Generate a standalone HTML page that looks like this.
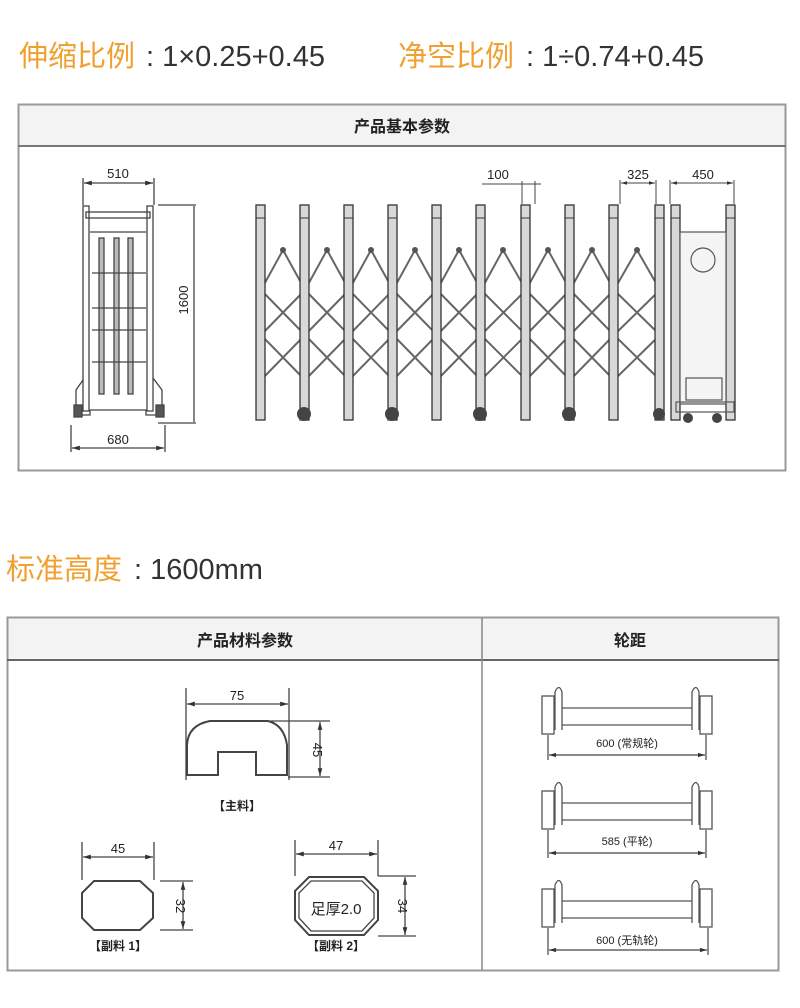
<!DOCTYPE html>
<html><head><meta charset="utf-8"><style>
html,body{margin:0;padding:0;background:#fff;}
svg{display:block;}
text{font-family:"Liberation Sans","Noto Sans CJK SC",sans-serif;}
</style></head><body>
<svg width="800" height="1008" viewBox="0 0 800 1008" xmlns="http://www.w3.org/2000/svg">
<defs>
<marker id="a" viewBox="0 0 10 10" refX="10" refY="5" markerWidth="6" markerHeight="6" orient="auto-start-reverse"><path d="M0,2 L10,5 L0,8z" fill="#333"/></marker>
</defs>
<!-- title line -->
<text x="19" y="66" font-size="29" fill="#f0a030" font-family="Noto Sans CJK SC,sans-serif">伸缩比例</text>
<text x="146" y="66" font-size="29" fill="#333">: 1×0.25+0.45</text>
<text x="398" y="66" font-size="29" fill="#f0a030" font-family="Noto Sans CJK SC,sans-serif">净空比例</text>
<text x="526" y="66" font-size="29" fill="#333">: 1÷0.74+0.45</text>

<!-- box 1 -->
<rect x="18.5" y="104.5" width="767" height="366" fill="#fff" stroke="#999" stroke-width="2"/>
<rect x="19.5" y="105.5" width="765" height="40" fill="#f3f3f3"/>
<line x1="18" y1="146" x2="786" y2="146" stroke="#777" stroke-width="2"/>
<text x="402" y="132" font-size="16" fill="#222" text-anchor="middle" font-weight="bold" font-family="Noto Sans CJK SC,sans-serif">产品基本参数</text>

<!-- side view -->
<g stroke="#444" fill="none" stroke-width="1.3">
<line x1="83" y1="178" x2="83" y2="205"/><line x1="154" y1="178" x2="154" y2="205"/>
<line x1="84" y1="183" x2="153" y2="183" marker-start="url(#a)" marker-end="url(#a)"/>
<line x1="158" y1="205" x2="196" y2="205"/><line x1="158" y1="423" x2="196" y2="423"/>
<line x1="194" y1="206" x2="194" y2="422"/>
<line x1="71" y1="425" x2="71" y2="452"/><line x1="165" y1="425" x2="165" y2="452"/>
<line x1="72" y1="448" x2="164" y2="448" marker-start="url(#a)" marker-end="url(#a)"/>
<rect x="83" y="206" width="6" height="205"/><rect x="147" y="206" width="6" height="205"/>
<rect x="86" y="212" width="64" height="6"/>
<line x1="90" y1="232" x2="146" y2="232"/>
<rect x="99" y="238" width="5" height="156" fill="#bbb"/><rect x="114" y="238" width="5" height="156" fill="#bbb"/><rect x="128" y="238" width="5" height="156" fill="#bbb"/>
<line x1="92" y1="273" x2="146" y2="273"/><line x1="92" y1="308" x2="146" y2="308"/><line x1="92" y1="330" x2="146" y2="330"/><line x1="92" y1="362" x2="146" y2="362"/>
<path d="M83,380 L76,390 L76,415 L90,415 L90,410 L146,410 L146,415 L162,415 L162,390 L153,378"/>
<rect x="74" y="405" width="8" height="12" fill="#555"/><rect x="156" y="405" width="8" height="12" fill="#555"/>
</g>
<text x="118" y="178" font-size="13" fill="#222" text-anchor="middle">510</text>
<text x="118" y="444" font-size="13" fill="#222" text-anchor="middle">680</text>
<text transform="translate(188,300) rotate(-90)" font-size="13" fill="#222" text-anchor="middle">1600</text>

<!-- main gate lattice -->
<g stroke="#666" fill="none" stroke-width="2">
<path d="M261,290 L283,250 L305,290 L261,335 L305,380 M305,290 L261,335 M261,290 L305,335 L261,380
 M305,290 L327,250 L349,290 L305,335 L349,380 M349,290 L305,335 M305,290 L349,335 L305,380
 M349,290 L371,250 L393,290 L349,335 L393,380 M393,290 L349,335 M349,290 L393,335 L349,380
 M393,290 L415,250 L437,290 L393,335 L437,380 M437,290 L393,335 M393,290 L437,335 L393,380
 M437,290 L459,250 L481,290 L437,335 L481,380 M481,290 L437,335 M437,290 L481,335 L437,380
 M481,290 L503,250 L526,290 L481,335 L526,380 M526,290 L481,335 M481,290 L526,335 L481,380
 M526,290 L548,250 L570,290 L526,335 L570,380 M570,290 L526,335 M526,290 L570,335 L526,380
 M570,290 L592,250 L614,290 L570,335 L614,380 M614,290 L570,335 M570,290 L614,335 L570,380
 M614,290 L637,250 L660,290 L614,335 L660,380 M660,290 L614,335 M614,290 L660,335 L614,380"/>
</g>
<g fill="#555"><circle cx="283" cy="250" r="3"/><circle cx="327" cy="250" r="3"/><circle cx="371" cy="250" r="3"/><circle cx="415" cy="250" r="3"/><circle cx="459" cy="250" r="3"/><circle cx="503" cy="250" r="3"/><circle cx="548" cy="250" r="3"/><circle cx="592" cy="250" r="3"/><circle cx="637" cy="250" r="3"/></g>
<g fill="#d8d8d8" stroke="#333" stroke-width="1.3">
<rect x="256" y="205" width="9" height="215"/><rect x="300" y="205" width="9" height="215"/>
<rect x="344" y="205" width="9" height="215"/><rect x="388" y="205" width="9" height="215"/>
<rect x="432" y="205" width="9" height="215"/><rect x="476" y="205" width="9" height="215"/>
<rect x="521" y="205" width="9" height="215"/><rect x="565" y="205" width="9" height="215"/>
<rect x="609" y="205" width="9" height="215"/><rect x="655" y="205" width="9" height="215"/>
<rect x="671" y="205" width="9" height="215"/><rect x="726" y="205" width="9" height="215"/>
</g>
<g stroke="#333" stroke-width="1">
<line x1="256" y1="218" x2="265" y2="218"/><line x1="300" y1="218" x2="309" y2="218"/><line x1="344" y1="218" x2="353" y2="218"/><line x1="388" y1="218" x2="397" y2="218"/><line x1="432" y1="218" x2="441" y2="218"/><line x1="476" y1="218" x2="485" y2="218"/><line x1="521" y1="218" x2="530" y2="218"/><line x1="565" y1="218" x2="574" y2="218"/><line x1="609" y1="218" x2="618" y2="218"/><line x1="655" y1="218" x2="664" y2="218"/><line x1="671" y1="218" x2="680" y2="218"/><line x1="726" y1="218" x2="735" y2="218"/>
</g>
<g fill="#444">
<circle cx="304" cy="414" r="7"/><circle cx="392" cy="414" r="7"/><circle cx="480" cy="414" r="7"/><circle cx="569" cy="414" r="7"/><circle cx="659" cy="414" r="6"/>
<circle cx="688" cy="418" r="5"/><circle cx="717" cy="418" r="5"/>
</g>
<!-- controller -->
<g stroke="#555" fill="none" stroke-width="1.2">
<rect x="680" y="232" width="46" height="172" fill="#f4f4f4"/>
<circle cx="703" cy="260" r="12"/>
<rect x="686" y="378" width="36" height="22"/>
<rect x="676" y="402" width="58" height="10"/>
</g>
<!-- dims -->
<g stroke="#444" stroke-width="1" fill="none">
<line x1="482" y1="184" x2="541" y2="184"/><line x1="522" y1="181" x2="522" y2="204"/><line x1="535" y1="181" x2="535" y2="204"/>
<line x1="621" y1="183" x2="655" y2="183" marker-start="url(#a)" marker-end="url(#a)"/><line x1="620" y1="180" x2="620" y2="204"/><line x1="656" y1="180" x2="656" y2="204"/>
<line x1="671" y1="183" x2="733" y2="183" marker-start="url(#a)" marker-end="url(#a)"/><line x1="670" y1="180" x2="670" y2="204"/><line x1="734" y1="180" x2="734" y2="204"/>
</g>
<text x="498" y="179" font-size="13" fill="#222" text-anchor="middle">100</text>
<text x="638" y="179" font-size="13" fill="#222" text-anchor="middle">325</text>
<text x="703" y="179" font-size="13" fill="#222" text-anchor="middle">450</text>

<!-- standard height -->
<text x="6" y="579" font-size="29" fill="#f0a030" font-family="Noto Sans CJK SC,sans-serif">标准高度</text>
<text x="134" y="579" font-size="29" fill="#333">: 1600mm</text>

<!-- box 2 -->
<rect x="7.5" y="617.5" width="771" height="353" fill="#fff" stroke="#999" stroke-width="2"/>
<rect x="8.5" y="618.5" width="769" height="40" fill="#f3f3f3"/>
<line x1="7" y1="660" x2="779" y2="660" stroke="#666" stroke-width="2"/>
<line x1="482" y1="618" x2="482" y2="970" stroke="#888" stroke-width="1.5"/>
<text x="245" y="646" font-size="16" fill="#222" text-anchor="middle" font-weight="bold" font-family="Noto Sans CJK SC,sans-serif">产品材料参数</text>
<text x="630" y="646" font-size="16" fill="#222" text-anchor="middle" font-weight="bold" font-family="Noto Sans CJK SC,sans-serif">轮距</text>

<g stroke="#444" stroke-width="1.3" fill="none">
<line x1="186" y1="688" x2="186" y2="780"/><line x1="289" y1="688" x2="289" y2="780"/>
<line x1="187" y1="704" x2="288" y2="704" marker-start="url(#a)" marker-end="url(#a)"/>
<path d="M187,775 L187,745 Q188,725 210,721 L268,721 Q284,725 287,745 L287,775 L256,775 L256,752 L218,752 L218,775 Z" stroke-width="2"/>
<line x1="270" y1="721" x2="330" y2="721"/><line x1="288" y1="777" x2="330" y2="777"/>
<line x1="320" y1="722" x2="320" y2="776" marker-start="url(#a)" marker-end="url(#a)"/>
<line x1="82" y1="842" x2="82" y2="880"/><line x1="154" y1="842" x2="154" y2="880"/>
<line x1="83" y1="857" x2="153" y2="857" marker-start="url(#a)" marker-end="url(#a)"/>
<path d="M82,893 L94,881 L140,881 L153,893 L153,918 L140,930 L94,930 L82,918 Z" stroke-width="2"/>
<line x1="160" y1="881" x2="193" y2="881"/><line x1="160" y1="930" x2="193" y2="930"/>
<line x1="183" y1="882" x2="183" y2="929" marker-start="url(#a)" marker-end="url(#a)"/>
<line x1="295" y1="840" x2="295" y2="876"/><line x1="378" y1="840" x2="378" y2="876"/>
<line x1="296" y1="854" x2="377" y2="854" marker-start="url(#a)" marker-end="url(#a)"/>
<path d="M295,891 L309,877 L364,877 L378,891 L378,920 L364,935 L309,935 L295,920 Z" stroke-width="2"/>
<path d="M299,893 L311,881 L362,881 L374,893 L374,918 L362,931 L311,931 L299,918 Z"/>
<line x1="378" y1="876" x2="416" y2="876"/><line x1="378" y1="936" x2="416" y2="936"/>
<line x1="405" y1="877" x2="405" y2="935" marker-start="url(#a)" marker-end="url(#a)"/>
</g>
<text x="237" y="700" font-size="13" fill="#222" text-anchor="middle">75</text>
<text transform="translate(313,750) rotate(90)" font-size="13" fill="#222" text-anchor="middle">45</text>
<text x="237" y="810" font-size="12" fill="#222" text-anchor="middle" font-weight="bold" font-family="Noto Sans CJK SC,sans-serif">【主料】</text>
<text x="118" y="853" font-size="13" fill="#222" text-anchor="middle">45</text>
<text transform="translate(176,906) rotate(90)" font-size="13" fill="#222" text-anchor="middle">32</text>
<text x="118" y="950" font-size="12" fill="#222" text-anchor="middle" font-weight="bold" font-family="Noto Sans CJK SC,sans-serif">【副料 1】</text>
<text x="336" y="850" font-size="13" fill="#222" text-anchor="middle">47</text>
<text x="336" y="914" font-size="15" fill="#222" text-anchor="middle" font-family="Noto Sans CJK SC,sans-serif">足厚2.0</text>
<text transform="translate(398,906) rotate(90)" font-size="13" fill="#222" text-anchor="middle">34</text>
<text x="336" y="950" font-size="12" fill="#222" text-anchor="middle" font-weight="bold" font-family="Noto Sans CJK SC,sans-serif">【副料 2】</text>

<g stroke="#555" stroke-width="1.3" fill="#fff">
<g id="ax">
<line x1="554" y1="708" x2="700" y2="708"/><line x1="554" y1="725" x2="700" y2="725"/>
<rect x="542" y="696" width="12" height="38"/><rect x="700" y="696" width="12" height="38"/>
<path d="M555,730 L555,692 Q559,683 562,692 L562,730" fill="#fff"/>
<path d="M692,730 L692,692 Q696,683 699,692 L699,730" fill="#fff"/>
</g>
<use href="#ax" y="95"/>
<use href="#ax" y="193"/>
</g>
<g stroke="#444" stroke-width="1.2" fill="none">
<line x1="548" y1="735" x2="548" y2="760"/><line x1="706" y1="735" x2="706" y2="760"/>
<line x1="549" y1="755" x2="705" y2="755" marker-start="url(#a)" marker-end="url(#a)"/>
<line x1="548" y1="830" x2="548" y2="858"/><line x1="706" y1="830" x2="706" y2="858"/>
<line x1="549" y1="853" x2="705" y2="853" marker-start="url(#a)" marker-end="url(#a)"/>
<line x1="548" y1="928" x2="548" y2="955"/><line x1="708" y1="928" x2="708" y2="955"/>
<line x1="549" y1="950" x2="707" y2="950" marker-start="url(#a)" marker-end="url(#a)"/>
</g>
<text x="627" y="747" font-size="11" fill="#222" text-anchor="middle" font-family="Noto Sans CJK SC,sans-serif">600 (常规轮)</text>
<text x="627" y="845" font-size="11" fill="#222" text-anchor="middle" font-family="Noto Sans CJK SC,sans-serif">585 (平轮)</text>
<text x="627" y="944" font-size="11" fill="#222" text-anchor="middle" font-family="Noto Sans CJK SC,sans-serif">600 (无轨轮)</text>
</svg>
</body></html>
